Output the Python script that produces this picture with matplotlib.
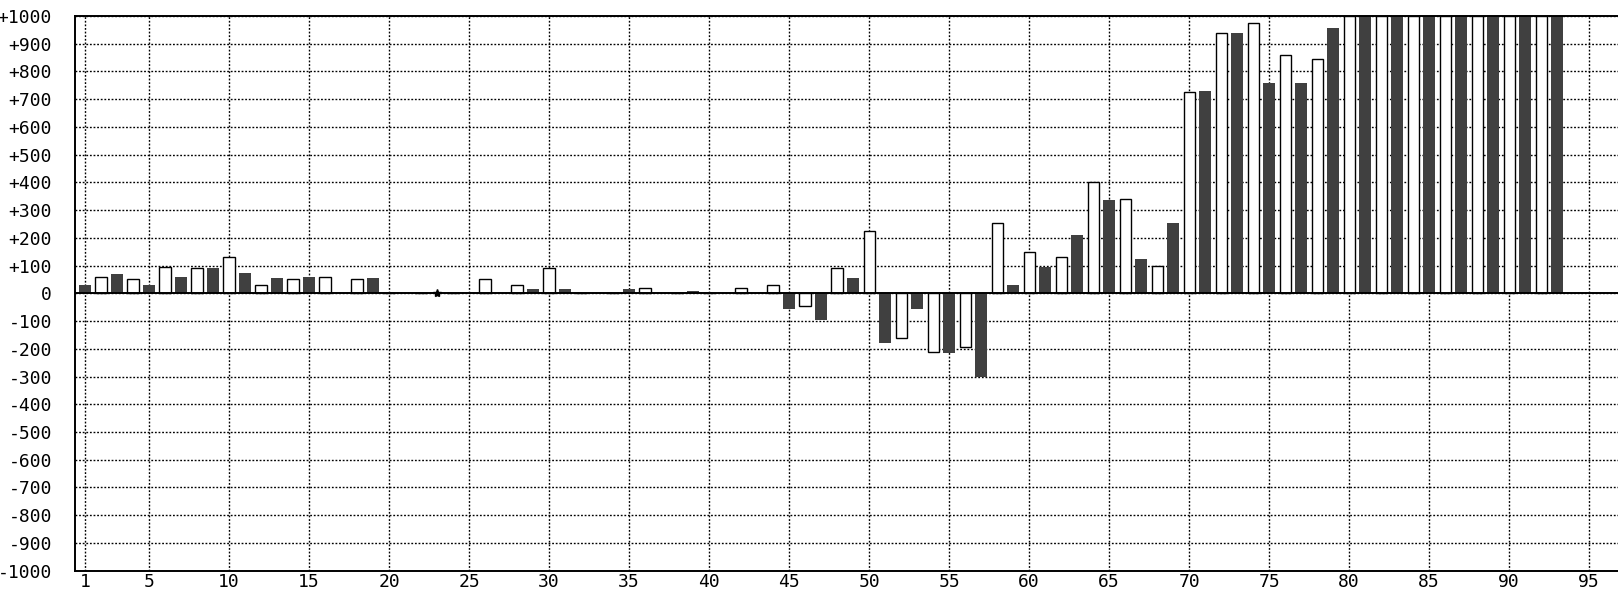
import numpy as np
import matplotlib
matplotlib.use('Agg')
import matplotlib.pyplot as plt
from matplotlib.ticker import FixedLocator, FuncFormatter

# dark bars sit on the odd positions, white bars on the even ones
dark_x = list(range(1, 94, 2))
dark_values = [30, 70, 30, 60, 90, 75, 55, 60, 0, 55,
               0, 0, 0, 0, 15, 15, 0, 15, 0, 10,
               0, 3, -55, -95, 55, -180, -55, -215, -300, 30,
               95, 210, 335, 125, 255, 730, 940, 760, 760, 955,
               1000, 1000, 1000, 1000, 1000, 1000, 1000]

white_x = list(range(2, 93, 2))
white_values = [60, 50, 95, 90, 130, 30, 50, 58, 50, 0,
                0, 0, 50, 30, 90, 0, 0, 20, 0, 0,
                20, 30, -45, 90, 225, -160, -210, -195, 255, 150,
                130, 400, 340, 100, 725, 940, 975, 860, 845, 1000,
                1000, 1000, 1000, 1000, 1000, 1000]

# positions flagged with a small star on the zero line
star_x = [23]

x_ticks = [1, 5, 10, 15, 20, 25, 30, 35, 40, 45, 50, 55, 60, 65, 70, 75, 80, 85, 90, 95]
y_ticks = list(range(-1000, 1001, 100))


def y_label(v, pos):
    if v == 0:
        return '0'
    return f'{int(v):+d}'


def draw_chart():
    plt.rcParams['font.family'] = 'DejaVu Sans Mono'
    plt.rcParams['font.size'] = 13

    fig = plt.figure(figsize=(16.18, 5.92), dpi=100)
    ax = fig.add_axes([75 / 1618, 1 - 570.7 / 592, 1 - 75 / 1618, (570.7 - 16) / 592])

    ax.bar(dark_x, dark_values, width=0.75, color='#404040', linewidth=0, zorder=2)
    ax.bar(white_x, white_values, width=0.7, color='white', edgecolor='black',
           linewidth=1.0, zorder=2)
    ax.plot(star_x, [0] * len(star_x), linestyle='none', marker='*', markersize=6,
            color='black', zorder=4)

    ax.axhline(0, color='black', linewidth=1.4, zorder=3)

    ax.set_xlim(0.375, 96.8)
    ax.set_ylim(-1000, 1000)

    ax.xaxis.set_major_locator(FixedLocator(x_ticks))
    ax.yaxis.set_major_locator(FixedLocator(y_ticks))
    ax.yaxis.set_major_formatter(FuncFormatter(y_label))
    ax.tick_params(axis='both', length=0, colors='black')
    ax.tick_params(axis='y', pad=16.5)
    ax.tick_params(axis='x', pad=1.5)

    ax.set_axisbelow(True)
    ax.grid(True, color='black', linestyle=(0, (1.3, 1.3)), linewidth=1.0)

    for side in ['left', 'top', 'bottom']:
        ax.spines[side].set_linewidth(1.4)
    ax.spines['right'].set_visible(False)

    plt.savefig('out.png', dpi=100)


if __name__ == '__main__':
    draw_chart()
